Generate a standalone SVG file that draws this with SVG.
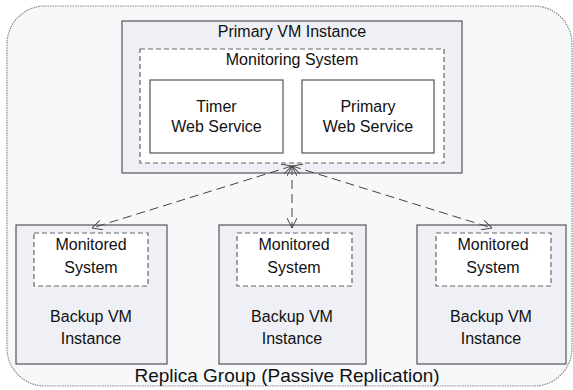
<svg xmlns="http://www.w3.org/2000/svg" width="573" height="390" viewBox="0 0 573 390">
<defs>
<style>
text{font-family:"Liberation Sans",Arial,sans-serif;font-size:16px;fill:#111;text-anchor:middle}
.vm{fill:#eef0f6;stroke:#555;stroke-width:1.2}
.ws{fill:#fff;stroke:#555;stroke-width:1.2}
.dash{fill:#fff;stroke:#666;stroke-width:1.2;stroke-dasharray:5,3}
.conn{fill:none;stroke:#444;stroke-width:1;stroke-dasharray:9,5}
</style>
<marker id="arr" viewBox="0 0 10 10" refX="10" refY="5" markerWidth="10" markerHeight="10" markerUnits="userSpaceOnUse" orient="auto-start-reverse">
<path d="M0,0 L10,5 L0,10" fill="none" stroke="#444" stroke-width="1"/>
</marker>
</defs>
<g id="replica-group">
<rect x="7" y="6" width="565" height="380" rx="38" ry="38" fill="#f7f8fa" stroke="#888" stroke-width="1.2" stroke-dasharray="1.5,1"/>
<text x="287" y="382" style="font-size:19px">Replica Group (Passive Replication)</text>
</g>
<g id="primary-vm">
<rect class="vm" x="122" y="21" width="340" height="152"/>
<text x="292" y="37">Primary VM Instance</text>
</g>
<g id="monitoring-system">
<rect class="dash" x="140" y="49" width="304" height="114"/>
<text x="292" y="65">Monitoring System</text>
</g>
<g id="timer-ws">
<rect class="ws" x="150" y="80" width="133" height="73"/>
<text x="216.5" y="112">Timer</text>
<text x="216.5" y="132">Web Service</text>
</g>
<g id="primary-ws">
<rect class="ws" x="302" y="80" width="132" height="73"/>
<text x="368" y="112">Primary</text>
<text x="368" y="132">Web Service</text>
</g>
<g id="backup1">
<rect class="vm" x="16" y="225" width="151" height="139"/>
<rect class="dash" x="34" y="233" width="114" height="53"/>
<text x="91" y="250">Monitored</text>
<text x="91" y="273">System</text>
<text x="91" y="322">Backup VM</text>
<text x="91" y="344">Instance</text>
</g>
<g id="backup2">
<rect class="vm" x="219" y="225" width="147" height="139"/>
<rect class="dash" x="237" y="233" width="115" height="53"/>
<text x="294" y="250">Monitored</text>
<text x="294" y="273">System</text>
<text x="292" y="322">Backup VM</text>
<text x="292" y="344">Instance</text>
</g>
<g id="backup3">
<rect class="vm" x="417" y="225" width="149" height="139"/>
<rect class="dash" x="436" y="233" width="115" height="53"/>
<text x="493" y="250">Monitored</text>
<text x="493" y="273">System</text>
<text x="491" y="322">Backup VM</text>
<text x="491" y="344">Instance</text>
</g>
<g id="connectors">
<path class="conn" d="M292,166 L92,228" marker-start="url(#arr)" marker-end="url(#arr)"/>
<path class="conn" d="M292,166 L292,228" marker-start="url(#arr)" marker-end="url(#arr)"/>
<path class="conn" d="M292,166 L492,228" marker-start="url(#arr)" marker-end="url(#arr)"/>
</g>
</svg>
